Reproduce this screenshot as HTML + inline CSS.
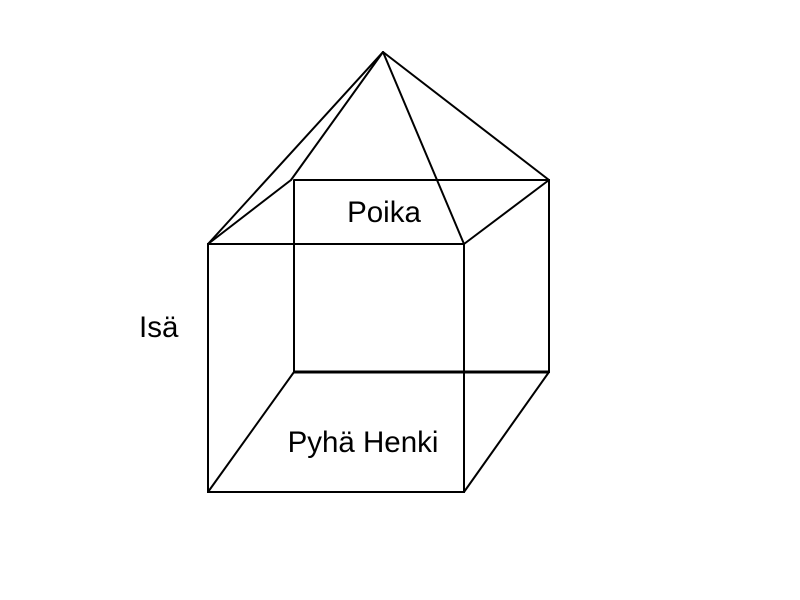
<!DOCTYPE html>
<html><head><meta charset="utf-8"><style>
html,body{margin:0;padding:0;background:#fff;}
svg{display:block;}
text{font-family:"Liberation Sans",sans-serif;font-size:29.5px;fill:#000;}
</style></head><body>
<svg width="800" height="600" viewBox="0 0 800 600">
<g stroke="#000" stroke-width="2" fill="none" stroke-linecap="round">
<polyline points="294,180 549,180 549,372 294,372 294,180"/>
<rect x="208" y="244" width="256" height="248"/>
<line x1="208" y1="244" x2="291" y2="180"/>
<line x1="464" y1="244" x2="549" y2="180"/>
<line x1="208" y1="492" x2="294" y2="372"/>
<line x1="464" y1="492" x2="549" y2="372"/>
<line x1="383" y1="52" x2="208" y2="244"/>
<line x1="383" y1="52" x2="291" y2="180"/>
<line x1="383" y1="52" x2="464" y2="244"/>
<line x1="383" y1="52" x2="549" y2="180"/>
</g>
<line x1="294" y1="372" x2="549" y2="372" stroke="#000" stroke-width="3"/>
<text x="384" y="222" text-anchor="middle">Poika</text>
<text x="139" y="337">Isä</text>
<text x="363" y="452" text-anchor="middle">Pyhä Henki</text>
</svg>
</body></html>
